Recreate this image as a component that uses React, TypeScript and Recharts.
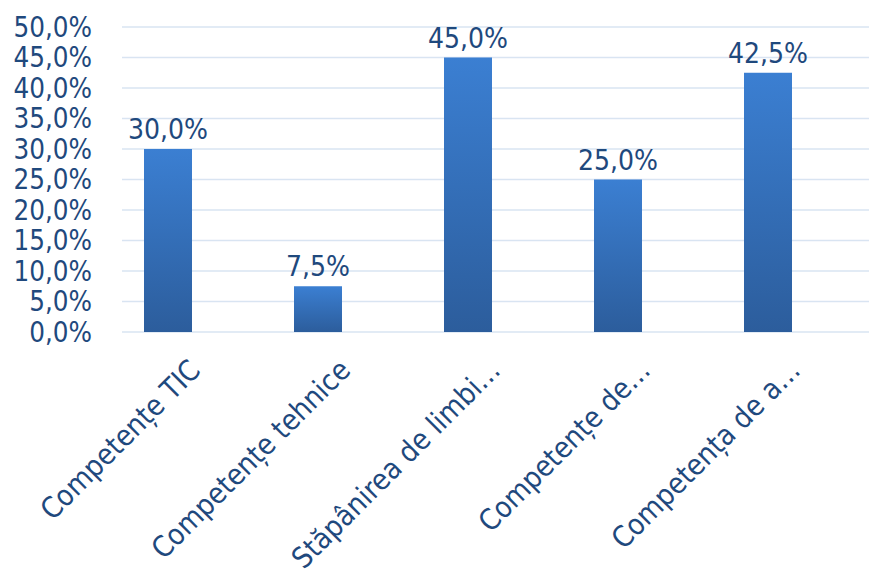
import React from "react";
import {
  BarChart,
  Bar,
  XAxis,
  YAxis,
  CartesianGrid,
  LabelList,
} from "recharts";

const categories = [
  "Competențe TIC",
  "Competențe tehnice",
  "Stăpânirea de limbi…",
  "Competențe de…",
  "Competența de a…",
];
const shares = [30.0, 7.5, 45.0, 25.0, 42.5];
const yTicks = [0, 5, 10, 15, 20, 25, 30, 35, 40, 45, 50];

const data = categories.map((name, i) => ({ name, value: shares[i] }));

const TEXT = "#1F497D";
const FONT = "'DejaVu Sans Condensed', 'DejaVu Sans', sans-serif";

const fmt = (v: number) => v.toFixed(1).replace(".", ",") + "%";

const AngledTick = ({ x, y, payload }: any) => (
  <g transform={`translate(${x + 34},${y + 32})`}>
    <text
      transform="rotate(-45)"
      textAnchor="end"
      fill={TEXT}
      fontSize={29}
      fontFamily={FONT}
    >
      {payload.value}
    </text>
  </g>
);

const GridLine = (props: any) => (
  <line
    x1={props.x1 + 29}
    x2={props.x2}
    y1={props.y1}
    y2={props.y2}
    stroke="#d9e4f2"
    strokeWidth={1.5}
  />
);

export default function App() {
  return (
    <div style={{ position: "absolute", left: 0, top: 0, background: "#fff" }}>
      <BarChart
        width={869}
        height={576}
        data={data}
        margin={{ top: 27, right: 0, bottom: 0, left: 0 }}
        barSize={48}
      >
        <defs>
          <linearGradient id="barFill" x1="0" y1="0" x2="0" y2="1">
            <stop offset="0%" stopColor="#3b7fd2" />
            <stop offset="100%" stopColor="#2c5d9c" />
          </linearGradient>
        </defs>
        <CartesianGrid vertical={false} horizontal={<GridLine />} />
        <XAxis
          dataKey="name"
          height={244}
          interval={0}
          axisLine={false}
          tickLine={false}
          tick={<AngledTick />}
          padding={{ left: 0, right: 26 }}
        />
        <YAxis
          width={93}
          domain={[0, 50]}
          ticks={yTicks}
          interval={0}
          tickFormatter={fmt}
          axisLine={false}
          tickLine={false}
          tickMargin={1}
          tick={{ fill: TEXT, fontSize: 27.5, fontFamily: FONT, dx: 6 }}
        />
        <Bar dataKey="value" fill="url(#barFill)" isAnimationActive={false}>
          <LabelList
            dataKey="value"
            position="top"
            offset={10}
            formatter={fmt}
            fill={TEXT}
            fontSize={28}
            fontFamily={FONT}
          />
        </Bar>
      </BarChart>
    </div>
  );
}
